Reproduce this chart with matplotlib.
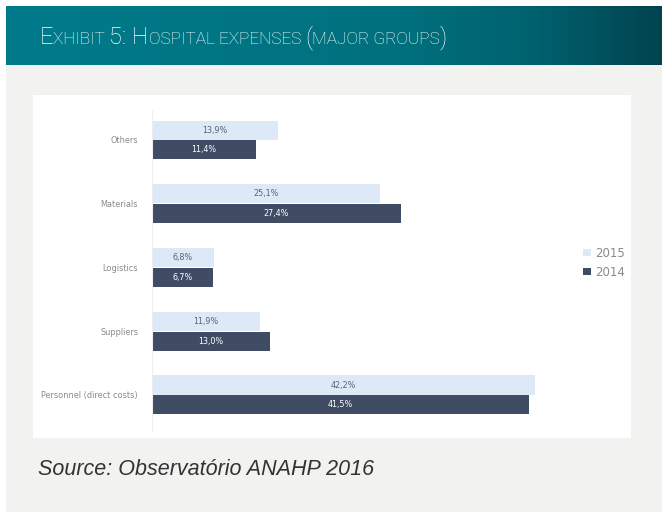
import matplotlib
matplotlib.use("Agg")

import numpy as np
import matplotlib.pyplot as plt
from matplotlib.patches import Rectangle
from matplotlib.colors import LinearSegmentedColormap

# data (top to bottom in the picture)
categories = ["Others", "Materials", "Logistics", "Suppliers", "Personnel (direct costs)"]
values_2015 = [13.9, 25.1, 6.8, 11.9, 42.2]
values_2014 = [11.4, 27.4, 6.7, 13.0, 41.5]
labels_2015 = ["13,9%", "25,1%", "6,8%", "11,9%", "42,2%"]
labels_2014 = ["11,4%", "27,4%", "6,7%", "13,0%", "41,5%"]
series_names = ["2015", "2014"]

W, H = 662, 512
LIGHT = "#dde9f6"
DARK = "#3f4c63"
BG = "#f2f2f0"


def fx(px):
    return px / W


def fy(py):
    # pixel from top -> figure fraction from bottom
    return 1 - py / H


fig = plt.figure(figsize=(W / 100, H / 100), dpi=100)
fig.patch.set_facecolor("white")

# grey page background and white chart panel
bgax = fig.add_axes([0, 0, 1, 1], zorder=0)
bgax.set_xlim(0, W)
bgax.set_ylim(H, 0)
bgax.set_axis_off()
bgax.add_patch(Rectangle((6, 65), W - 6, H - 65, facecolor=BG, edgecolor="none"))
bgax.add_patch(Rectangle((33, 95), 631 - 33, 438 - 95, facecolor="white", edgecolor="none"))

# header band with horizontal gradient
hax = fig.add_axes([fx(6), fy(65), 1 - fx(6), (65 - 6) / H], zorder=1)
grad = np.linspace(0, 1, 256).reshape(1, -1)
cmap = LinearSegmentedColormap.from_list(
    "hdr", [(0, "#007b8b"), (0.6, "#00707e"), (0.8, "#00626f"), (1, "#00434f")])
hax.imshow(grad, aspect="auto", cmap=cmap, extent=[0, 1, 0, 1])
hax.set_axis_off()

# title in small caps, built from pieces
pieces = [("E", 17), ("XHIBIT ", 12.4), ("5: H", 17), ("OSPITAL EXPENSES ", 12.4),
          ("(", 17), ("MAJOR GROUPS", 12.4), (")", 17)]
renderer = fig.canvas.get_renderer()
x = 40
for txt, size in pieces:
    t = fig.text(fx(x), fy(44), txt, color="white", fontsize=size,
                 family=["Roboto", "DejaVu Sans"], fontweight="light",
                 va="baseline", ha="left", zorder=3)
    bb = t.get_window_extent(renderer=renderer)
    x += bb.width

# bar chart
x0, x1 = 152, 152 + 9.08 * 45
top, bottom = 110, 430
ax = fig.add_axes([fx(x0), fy(bottom), fx(x1 - x0), (bottom - top) / H], zorder=2)
ax.set_facecolor("none")
ypos = np.arange(len(categories))[::-1]
bh = 0.3
off = 0.155
b15 = ax.barh(ypos + off, values_2015, height=bh, color=LIGHT, label=series_names[0])
b14 = ax.barh(ypos - off, values_2014, height=bh, color=DARK, label=series_names[1])
for rect, lab in zip(b15, labels_2015):
    ax.text(rect.get_width() / 2, rect.get_y() + rect.get_height() / 2, lab,
            ha="center", va="center", fontsize=5.8, color="#5a6270")
for rect, lab in zip(b14, labels_2014):
    ax.text(rect.get_width() / 2, rect.get_y() + rect.get_height() / 2, lab,
            ha="center", va="center", fontsize=5.8, color="white")

ax.set_xlim(0, 45)
ax.set_ylim(-0.55, 4.47)
ax.set_yticks(ypos)
ax.set_yticklabels(categories, fontsize=5.9, color="#8a8a8a")
ax.tick_params(axis="y", length=0, pad=10)
ax.set_xticks([])
for s in ["top", "right", "bottom"]:
    ax.spines[s].set_visible(False)
ax.spines["left"].set_color("#eeeeee")
ax.spines["left"].set_linewidth(0.8)

ax.legend(handles=[b15, b14], loc="center left", frameon=False,
          bbox_to_anchor=(fx(572), fy(263)), bbox_transform=fig.transFigure,
          fontsize=8.5, handlelength=0.75, handleheight=0.5, handletextpad=0.3,
          labelspacing=0.5, labelcolor="#8a8a8a")

fig.text(fx(38), fy(475), "Source: Observatório ANAHP 2016", fontsize=15.5,
         style="italic", color="#333333", family="Liberation Sans",
         va="baseline", ha="left", zorder=3)

fig.savefig("out.png", dpi=100, facecolor=fig.get_facecolor())
